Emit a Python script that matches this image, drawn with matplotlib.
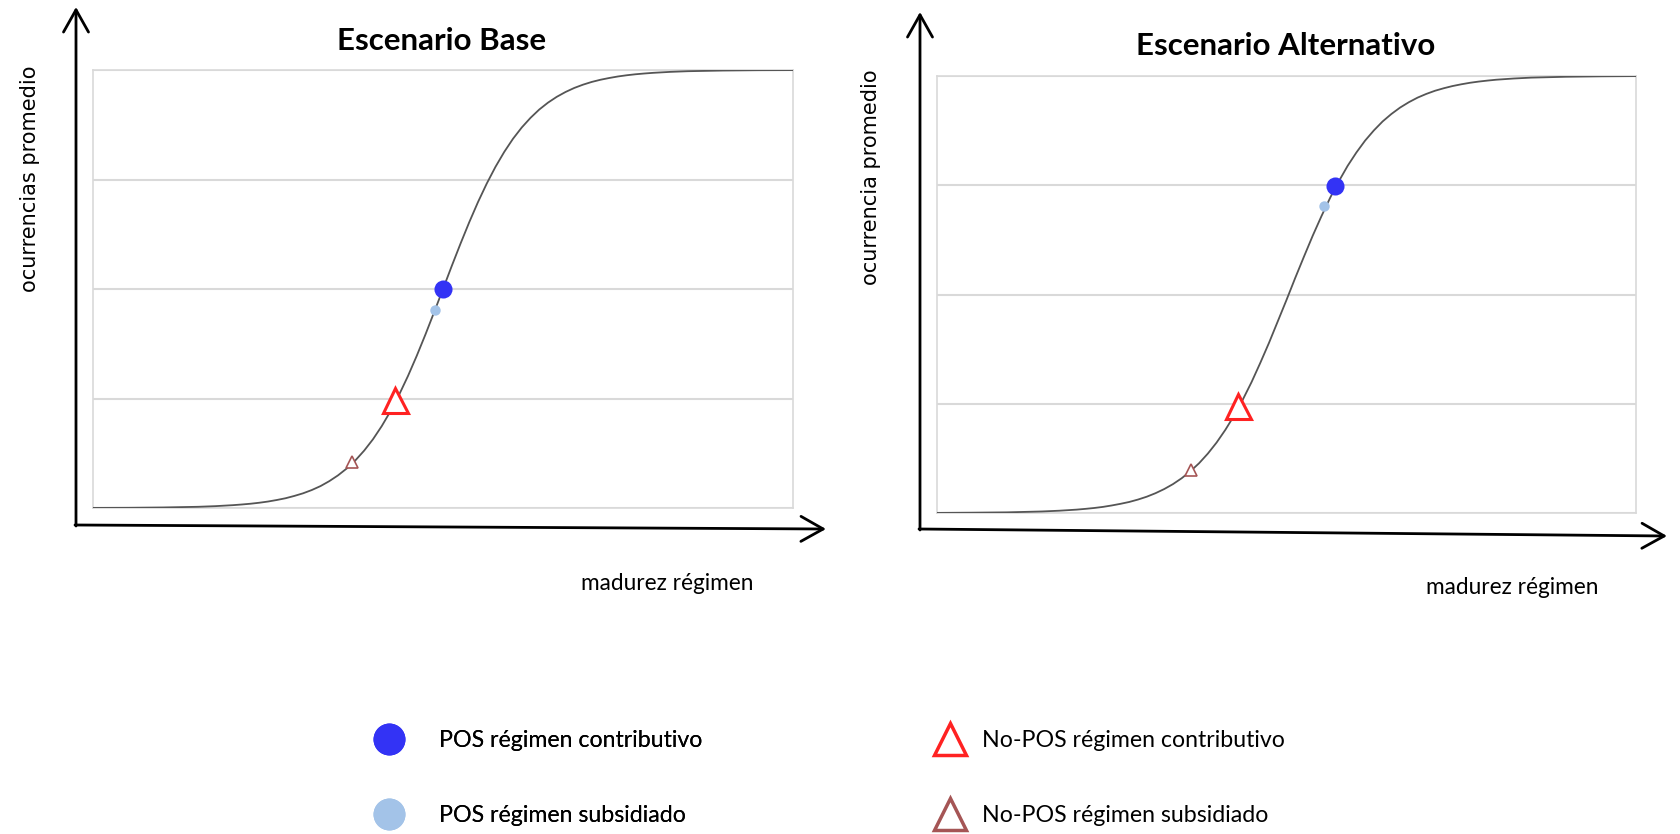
import matplotlib
matplotlib.use('Agg')
from matplotlib import pyplot as plt
from matplotlib.lines import Line2D

W, H = 1680, 834

# curve (x: 0-10 across the box, y: 0-4 grid bands)
madurez = [0, 0.5, 1, 1.5, 1.75,
           2, 2.125, 2.25, 2.375, 2.5, 2.625, 2.75, 2.875, 3, 3.125, 3.25, 3.375,
           3.5, 3.625, 3.75, 3.875, 4, 4.125, 4.25, 4.375, 4.5, 4.625, 4.75, 4.875,
           5, 5.125, 5.25, 5.375, 5.5, 5.625, 5.75, 5.875, 6, 6.125, 6.25, 6.375,
           6.5, 6.625, 6.75, 6.875, 7, 7.125, 7.25, 7.375, 7.5, 7.625, 7.75, 7.875, 8,
           8.25, 8.5, 9, 9.5, 10]
ocurrencias_base = [0.001, 0.002, 0.005, 0.011, 0.017,
                    0.026, 0.032, 0.039, 0.048, 0.059, 0.073, 0.089, 0.110, 0.134, 0.164, 0.200, 0.245,
                    0.298, 0.361, 0.436, 0.525, 0.628, 0.748, 0.884, 1.037, 1.206, 1.390, 1.586, 1.791,
                    2.0, 2.210, 2.414, 2.610, 2.794, 2.963, 3.116, 3.252, 3.372, 3.475, 3.563, 3.639,
                    3.702, 3.755, 3.799, 3.836, 3.866, 3.891, 3.911, 3.927, 3.941, 3.952, 3.961, 3.968, 3.974,
                    3.983, 3.989, 3.995, 3.998, 3.999]
ocurrencias_alt = [0.001, 0.003, 0.006, 0.014, 0.021,
                   0.031, 0.038, 0.046, 0.056, 0.069, 0.084, 0.101, 0.123, 0.149, 0.181, 0.219, 0.264,
                   0.318, 0.382, 0.456, 0.544, 0.645, 0.761, 0.891, 1.038, 1.198, 1.374, 1.558, 1.754,
                   1.950, 2.152, 2.347, 2.538, 2.717, 2.886, 3.038, 3.178, 3.300, 3.409, 3.502, 3.584,
                   3.652, 3.711, 3.760, 3.802, 3.836, 3.865, 3.888, 3.908, 3.924, 3.938, 3.949, 3.958, 3.966,
                   3.977, 3.985, 3.993, 3.997, 3.999]

# marker positions (x, y) per scenario
pos_contrib = {'base': (5.0, 2.0), 'alt': (5.69, 2.99)}
pos_subsid = {'base': (4.89, 1.81), 'alt': (5.54, 2.81)}
nopos_contrib = {'base': (4.31, 0.99), 'alt': (4.31, 0.98)}
nopos_subsid = {'base': (3.70, 0.42), 'alt': (3.64, 0.39)}

titles = {'base': 'Escenario Base', 'alt': 'Escenario Alternativo'}
ylabels = {'base': 'ocurrencias promedio', 'alt': 'ocurrencia promedio'}
xlabel = 'madurez régimen'
legend_labels = ['POS régimen contributivo', 'POS régimen subsidiado',
                 'No-POS régimen contributivo', 'No-POS régimen subsidiado']

c_blue = '#3333f5'
c_lblue = '#a3c3e8'
c_red = '#ff2222'
c_brown = '#a55555'
c_grid = '#d9d9d9'

fig = plt.figure(figsize=(W / 100, H / 100), dpi=100)

# overlay for the hand-drawn axis arrows, in pixel coords
over = fig.add_axes([0, 0, 1, 1])
over.set_xlim(0, W)
over.set_ylim(H, 0)
over.axis('off')


def arrow(x0, y0, x1, y1):
    over.annotate('', xy=(x1, y1), xytext=(x0, y0),
                  arrowprops=dict(arrowstyle='->,head_length=0.8,head_width=0.45',
                                  mutation_scale=20, lw=2, color='black',
                                  shrinkA=0, shrinkB=0))


def box(left, top, right, bottom):
    return [left / W, 1 - bottom / H, (right - left) / W, (bottom - top) / H]


panels = {
    'base': dict(box=(93, 70, 793, 508), yaxis=(76, 526, 76, 7), xaxis=(75, 525, 826, 529),
                 title=(442, 41), ylab=(30, 179), xlab=(667, 584)),
    'alt': dict(box=(937, 76, 1636, 513), yaxis=(920, 530, 920, 12), xaxis=(919, 529, 1667, 536),
                title=(1286, 46), ylab=(871, 177), xlab=(1512, 587)),
}
curves = {'base': ocurrencias_base, 'alt': ocurrencias_alt}

for key, p in panels.items():
    ax = fig.add_axes(box(*p['box']))
    ax.set_xlim(0, 10)
    ax.set_ylim(0, 4)
    ax.set_yticks([0, 1, 2, 3, 4])
    ax.set_xticks([])
    ax.tick_params(length=0, labelleft=False)
    ax.yaxis.grid(True, color=c_grid, lw=1.5)
    for s in ax.spines.values():
        s.set_color(c_grid)
        s.set_linewidth(1.2)

    ax.plot(madurez, curves[key], color='#555555', lw=1.3, solid_joinstyle='round', zorder=3)
    ax.plot(*nopos_subsid[key], ls='none', marker='^', ms=8, mfc='white', mec=c_brown, mew=1.2, zorder=4)
    ax.plot(*nopos_contrib[key], ls='none', marker='^', ms=18, mfc='white', mec=c_red, mew=2.2, zorder=4)
    ax.plot(*pos_subsid[key], ls='none', marker='o', ms=7.5, mfc=c_lblue, mec='none', zorder=4)
    ax.plot(*pos_contrib[key], ls='none', marker='o', ms=13, mfc=c_blue, mec='none', zorder=5)

    arrow(*p['yaxis'])
    arrow(*p['xaxis'])

    tx, ty = p['title']
    over.text(tx, ty, titles[key], ha='center', va='center', fontsize=22.5,
              fontweight='bold', family='Lato')
    lx, ly = p['ylab']
    over.text(lx, ly, ylabels[key], ha='center', va='center', rotation=90,
              fontsize=15, family='DejaVu Sans')
    xx, xy = p['xlab']
    over.text(xx, xy, xlabel, ha='center', va='center', fontsize=16.3, family='Lato')

handles = [
    Line2D([], [], ls='none', marker='o', ms=23, mfc=c_blue, mec='none'),
    Line2D([], [], ls='none', marker='o', ms=23, mfc=c_lblue, mec='none'),
    Line2D([], [], ls='none', marker='^', ms=23, mfc='white', mec=c_red, mew=2.5),
    Line2D([], [], ls='none', marker='^', ms=23, mfc='white', mec=c_brown, mew=2.5),
]
leg_opts = dict(loc='center left', frameon=False, borderpad=0, borderaxespad=0,
                handlelength=1.4, labelspacing=2.3,
                prop={'family': 'Lato', 'size': 16.7})
leg1 = fig.legend(handles[:2], legend_labels[:2], handletextpad=1.45,
                  bbox_to_anchor=((390 - 17) / W, 1 - 778 / H), **leg_opts)
fig.add_artist(leg1)
fig.legend(handles[2:], legend_labels[2:], handletextpad=0.65,
           bbox_to_anchor=((951 - 17) / W, 1 - 778 / H), **leg_opts)

fig.savefig('out.png', dpi=100, facecolor='white')
